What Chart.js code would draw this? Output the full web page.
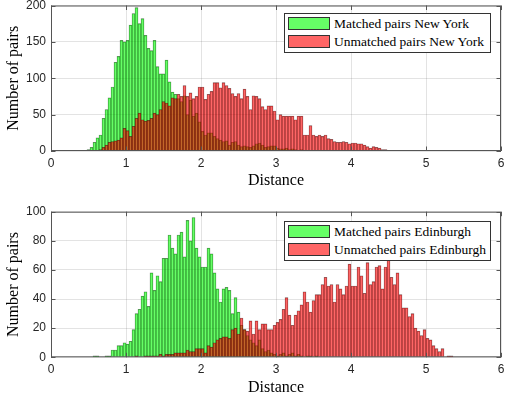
<!DOCTYPE html>
<html lang="en">
<head>
<meta charset="UTF-8">
<title>Matched vs unmatched pair distances</title>
<script src="https://cdn.jsdelivr.net/npm/chart.js"></script>
<style>
    body { margin: 0; background: #fff; }
    #wrap { position: relative; width: 505px; height: 402px; overflow: hidden; }
    .plot { position: absolute; left: 0; }
    .legend {
        position: absolute; left: 284px; width: 205px; height: 38px;
        border: 1px solid #333; background: #fff;
        font: 13.5px "Liberation Serif", "Times New Roman", serif; color: #000;
    }
    .row { position: absolute; left: 3px; height: 13px; display: flex; align-items: center; white-space: nowrap; }
    .sw { width: 40px; height: 11px; border: 1px solid #333; margin-right: 4px; }
</style>
</head>
<body>
<div id="wrap">
    <canvas id="nyChart" class="plot" width="505" height="200" style="top:0"></canvas>
    <canvas id="edChart" class="plot" width="505" height="202" style="top:200px"></canvas>

    <div class="legend" style="top:13px">
        <div class="row" style="top:3px"><span class="sw" style="background:#66ff66"></span>Matched pairs New York</div>
        <div class="row" style="top:21px"><span class="sw" style="background:#ff6666"></span>Unmatched pairs New York</div>
    </div>
    <div class="legend" style="top:221px">
        <div class="row" style="top:3px"><span class="sw" style="background:#66ff66"></span>Matched pairs Edinburgh</div>
        <div class="row" style="top:21px"><span class="sw" style="background:#ff6666"></span>Unmatched pairs Edinburgh</div>
    </div>
</div>

<script>
// histogram bins (width 0.04), counts read per bin starting at the first edge
const binWidth = 0.04;

const nyFirstEdge = 0.44;
const nyMatched = [1,2,5,12,18,22,45,57,73,88, 122,130,152,150,152,173,189,197,175,182,
    159,141,138,152,116,106,106,125,95,81, 78,72,68,76,50,70,48,52,40,27,
    22,25,25,20,17,15,13,14,8,12, 13,8,6,7,6,5,7,10,11,8,
    5,6,7,7,4,3,3,4,2,3, 2,1,2,1,1,0,1];
const nyUnmatched = [0,0,0,0,1,2,5,8,12,13, 14,15,18,31,28,20,34,45,52,43,
    41,42,45,52,50,57,68,66,62,73, 72,78,75,90,75,80,72,75,88,88,
    71,78,82,94,94,87,94,90,86,79, 75,79,72,85,75,57,76,75,72,61,
    57,62,62,55,43,50,48,48,48,48, 43,48,48,22,22,35,22,20,22,20,
    22,17,16,13,12,12,13,12,10,11, 11,10,10,8,6,4,6,5,4,2, 2,1,0,1,1];

const edFirstEdge = 0.48;
const edMatched = [0,0,1,1,0,0,1,1,5,5, 8,8,10,9,11,19,30,33,42,45,
    35,58,46,56,52,68,68,84,75,71, 84,86,69,94,80,96,75,69,62,62,
    75,71,58,47,38,47,48,46,30,41, 31,22,19,15,12,10,8,12,6,4,
    5,3,2,1,2,3,1,2,3,1, 2,1,0,1,1,0,1];
const edUnmatched = [0,0,0,0,0,0,0,0,0,0, 0,0,0,0,0,0,1,0,0,1,
    1,1,1,1,2,1,2,2,2,3, 3,3,3,5,4,4,6,6,6,3,
    8,7,10,12,13,14,14,13,19,20, 16,27,19,18,25,16,25,19,23,23,
    19,19,22,24,26,33,41,29,22,29, 32,36,45,38,31,39,43,43,50,55,
    49,50,38,50,47,43,49,64,49,49, 62,56,44,65,50,52,62,63,47,62,
    68,55,50,58,43,34,34,28,30,20, 18,15,19,13,12,8,6,4,6,0,1,1];

const xTicks = [0, 1, 2, 3, 4, 5, 6];

function toPoints(firstEdge, counts) {
    return counts.map((c, i) => ({ x: firstEdge + (i + 0.5) * binWidth, y: c }));
}

const tickFont = { family: 'Liberation Sans', size: 12 };
const titleFont = { family: 'Liberation Serif', size: 16 };
const gridColor = 'rgba(0,0,0,0.11)';

// MATLAB-like box with inward tick marks
const boxPlugin = {
    id: 'box',
    afterDraw(chart) {
        const { ctx, chartArea: a, scales } = chart;
        const len = 4.5;
        ctx.save();
        ctx.strokeStyle = '#555';
        ctx.lineWidth = 1;
        ctx.strokeRect(a.left + 0.5, a.top + 0.5, a.right - a.left - 1, a.bottom - a.top - 1);
        ctx.beginPath();
        scales.x.ticks.forEach(t => {
            const px = Math.round(scales.x.getPixelForValue(t.value)) + 0.5;
            ctx.moveTo(px, a.bottom); ctx.lineTo(px, a.bottom - len);
            ctx.moveTo(px, a.top); ctx.lineTo(px, a.top + len);
        });
        scales.y.ticks.forEach(t => {
            const py = Math.round(scales.y.getPixelForValue(t.value)) + 0.5;
            ctx.moveTo(a.left, py); ctx.lineTo(a.left + len, py);
            ctx.moveTo(a.right, py); ctx.lineTo(a.right - len, py);
        });
        ctx.stroke();
        ctx.restore();
    }
};

function makeChart(id, firstEdge, matched, unmatched, names, yMax, yStep, lay) {
    const bar = {
        borderColor: 'rgba(0,0,0,0.55)',
        borderWidth: 0.5,
        grouped: false,
        barPercentage: 1,
        categoryPercentage: 1
    };
    return new Chart(document.getElementById(id), {
        type: 'bar',
        data: {
            datasets: [
                Object.assign({ label: names[0], data: toPoints(firstEdge, matched),
                    backgroundColor: 'rgba(0,255,0,0.6)', order: 1 }, bar),
                Object.assign({ label: names[1], data: toPoints(firstEdge, unmatched),
                    backgroundColor: 'rgba(255,0,0,0.6)', order: 0 }, bar)
            ]
        },
        options: {
            responsive: false,
            animation: false,
            devicePixelRatio: 1,
            layout: { padding: { top: lay.top, right: 4, left: 0, bottom: 0 } },
            plugins: { legend: { display: false }, tooltip: { enabled: false } },
            scales: {
                x: {
                    type: 'linear', min: 0, max: 6, offset: false,
                    grid: { offset: false, color: gridColor, drawTicks: false },
                    border: { display: false },
                    afterBuildTicks: s => { s.ticks = xTicks.map(v => ({ value: v })); },
                    ticks: { padding: 5, font: tickFont, color: '#262626', maxRotation: 0, autoSkip: false },
                    title: { display: true, text: 'Distance', font: titleFont, color: '#000',
                        padding: { top: 0, bottom: lay.titleBottom } },
                    afterFit: s => { s.height = lay.xHeight; s.paddingLeft = 0; s.paddingRight = 0; }
                },
                y: {
                    min: 0, max: yMax,
                    grid: { color: gridColor, drawTicks: false },
                    border: { display: false },
                    ticks: { stepSize: yStep, padding: 5, font: tickFont, color: '#262626' },
                    title: { display: true, text: 'Number of pairs', font: titleFont, color: '#000',
                        padding: { top: 4, bottom: 0 } },
                    afterFit: s => { s.width = 51; s.paddingTop = 0; s.paddingBottom = 0; }
                }
            }
        },
        plugins: [boxPlugin]
    });
}

makeChart('nyChart', nyFirstEdge, nyMatched, nyUnmatched,
    ['Matched pairs New York', 'Unmatched pairs New York'], 200, 50,
    { top: 5.5, xHeight: 49, titleBottom: 10 });
makeChart('edChart', edFirstEdge, edMatched, edUnmatched,
    ['Matched pairs Edinburgh', 'Unmatched pairs Edinburgh'], 100, 20,
    { top: 11.7, xHeight: 44.7, titleBottom: 5 });
</script>
</body>
</html>
